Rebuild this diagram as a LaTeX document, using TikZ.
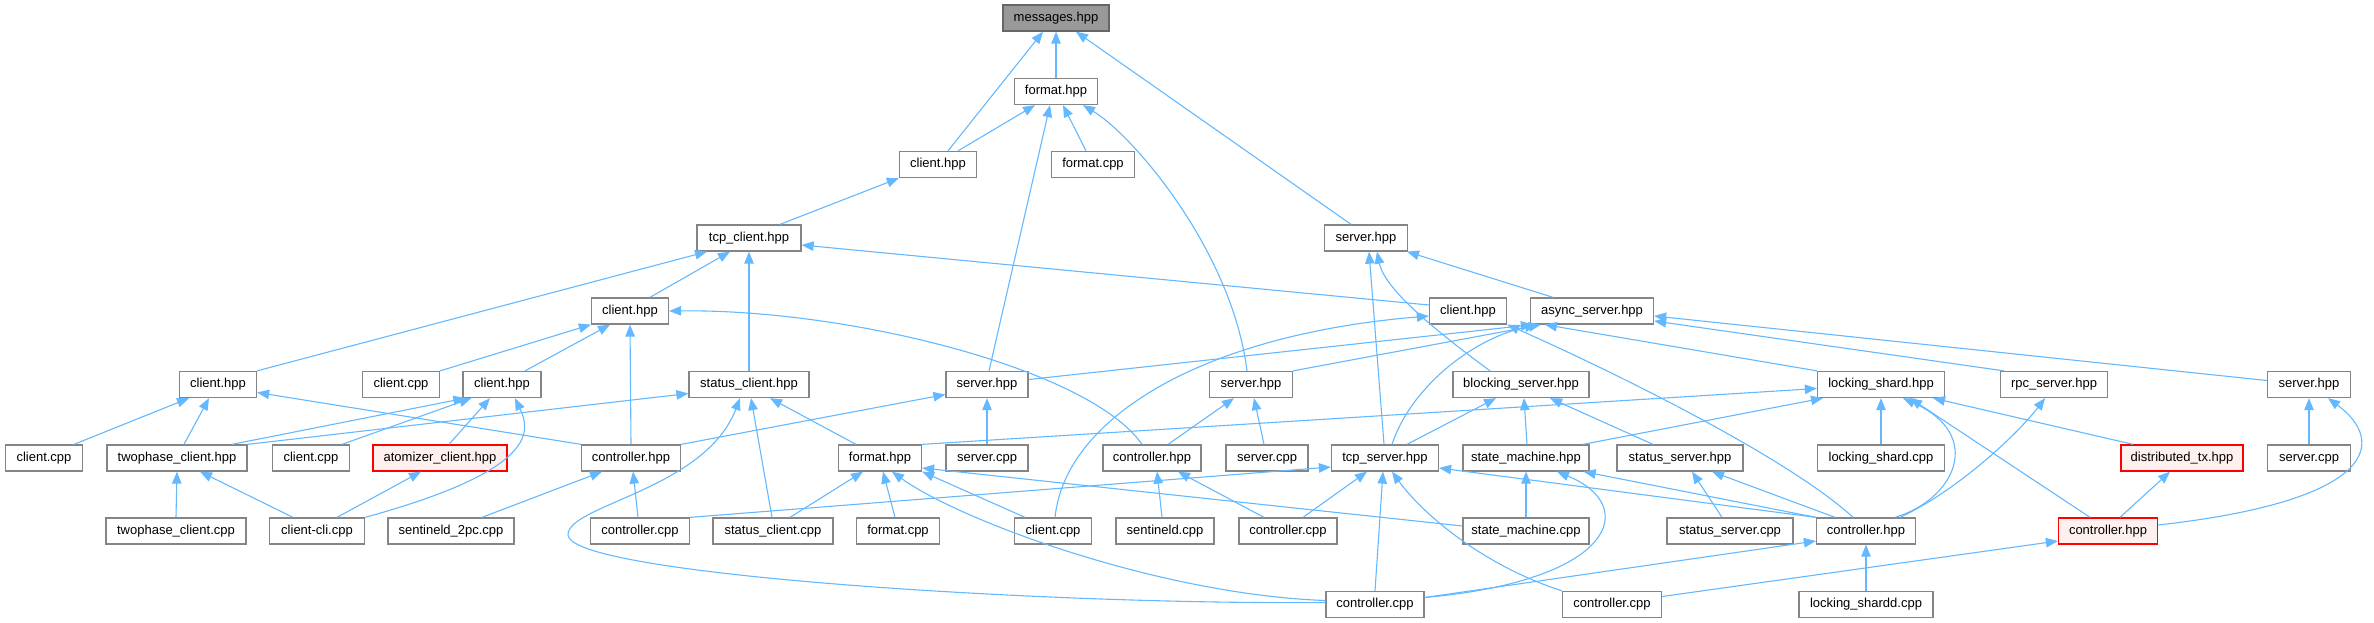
\documentclass[tikz,border=0pt]{standalone}
\usepackage{fontspec}
\setmainfont{Liberation Sans}
\usetikzlibrary{arrows.meta}
\definecolor{edgeblue}{HTML}{63B8FF}
\definecolor{boxgray}{HTML}{858585}
\definecolor{rootfill}{HTML}{999999}
\definecolor{rootdraw}{HTML}{666666}
\definecolor{redfill}{HTML}{FFF0F0}
\definecolor{reddraw}{HTML}{FF0000}
\tikzset{
  box/.style={draw=boxgray, fill=white, line width=1.3pt, minimum height=26pt, inner sep=0pt,
    font=\fontsize{13}{15}\selectfont, text height=9.5pt, text depth=2.8pt},
  rootbox/.style={box, draw=rootdraw, fill=rootfill},
  redbox/.style={box, draw=reddraw, fill=redfill},
  edge/.style={draw=edgeblue, line width=1.1pt, -{Triangle[length=12pt,width=9.5pt]}}
}
\begin{document}
\begin{tikzpicture}[x=1pt,y=-1pt]
\useasboundingbox (0,0) rectangle (2374,623);
% row 0-4
\node[rootbox, minimum width=106pt] (msg) at (1056,18) {messages.hpp};
\node[box, minimum width=83pt] (fmt) at (1056,91.5) {format.hpp};
\node[box, minimum width=77pt] (cli1) at (938,164.5) {client.hpp};
\node[box, minimum width=83pt] (fmtcpp1) at (1093,164.5) {format.cpp};
\node[box, minimum width=104pt] (tcpc) at (749,238) {tcp\_client.hpp};
\node[box, minimum width=83pt] (srv1) at (1366,238) {server.hpp};
\node[box, minimum width=77pt] (cli2) at (630,311) {client.hpp};
\node[box, minimum width=77pt] (cli3) at (1468,311) {client.hpp};
\node[box, minimum width=123pt] (asrv) at (1592,311) {async\_server.hpp};
% row 5
\node[box, minimum width=77pt] (cli4) at (218,384.5) {client.hpp};
\node[box, minimum width=77pt] (clicpp1) at (401,384.5) {client.cpp};
\node[box, minimum width=78pt] (cli5) at (502,384.5) {client.hpp};
\node[box, minimum width=120pt] (stc) at (749,384.5) {status\_client.hpp};
\node[box, minimum width=82pt] (srv2) at (987,384.5) {server.hpp};
\node[box, minimum width=83pt] (srv3) at (1251,384.5) {server.hpp};
\node[box, minimum width=136pt] (bsrv) at (1521,384.5) {blocking\_server.hpp};
\node[box, minimum width=127pt] (lsh) at (1881,384.5) {locking\_shard.hpp};
\node[box, minimum width=107pt] (rpc) at (2054,384.5) {rpc\_server.hpp};
\node[box, minimum width=83pt] (srv4) at (2309,384.5) {server.hpp};
% row 6
\node[box, minimum width=77pt] (clicpp2) at (44,458) {client.cpp};
\node[box, minimum width=140pt] (tpc) at (177,458) {twophase\_client.hpp};
\node[box, minimum width=77pt] (clicpp3) at (311,458) {client.cpp};
\node[redbox, minimum width=134pt] (atom) at (440,458) {atomizer\_client.hpp};
\node[box, minimum width=99pt] (ctl1) at (631,458) {controller.hpp};
\node[box, minimum width=83pt] (fmt2) at (880,458) {format.hpp};
\node[box, minimum width=82pt] (srvcpp1) at (987,458) {server.cpp};
\node[box, minimum width=98pt] (ctl2) at (1152,458) {controller.hpp};
\node[box, minimum width=82pt] (srvcpp2) at (1267,458) {server.cpp};
\node[box, minimum width=107pt] (tcps) at (1385,458) {tcp\_server.hpp};
\node[box, minimum width=126pt] (sm) at (1526,458) {state\_machine.hpp};
\node[box, minimum width=126pt] (ssrv) at (1680,458) {status\_server.hpp};
\node[box, minimum width=127pt] (lshcpp) at (1881,458) {locking\_shard.cpp};
\node[redbox, minimum width=122pt] (dtx) at (2182,458) {distributed\_tx.hpp};
\node[box, minimum width=83pt] (srvcpp3) at (2309,458) {server.cpp};
% row 7
\node[box, minimum width=140pt] (tpccpp) at (176,531) {twophase\_client.cpp};
\node[box, minimum width=95pt] (clicli) at (317,531) {client-cli.cpp};
\node[box, minimum width=126pt] (s2pc) at (451,531) {sentineld\_2pc.cpp};
\node[box, minimum width=99pt] (ctlcpp1) at (640,531) {controller.cpp};
\node[box, minimum width=120pt] (stccpp) at (773,531) {status\_client.cpp};
\node[box, minimum width=83pt] (fmtcpp2) at (898,531) {format.cpp};
\node[box, minimum width=77pt] (clicpp4) at (1053,531) {client.cpp};
\node[box, minimum width=98pt] (sentcpp) at (1165,531) {sentineld.cpp};
\node[box, minimum width=98pt] (ctlcpp2) at (1288,531) {controller.cpp};
\node[box, minimum width=126pt] (smcpp) at (1526,531) {state\_machine.cpp};
\node[box, minimum width=126pt] (sscpp) at (1730,531) {status\_server.cpp};
\node[box, minimum width=99pt] (ctl3) at (1866,531) {controller.hpp};
\node[redbox, minimum width=99pt] (ctl4) at (2108,531) {controller.hpp};
% row 8
\node[box, minimum width=98pt] (ctlcpp3) at (1375,604.5) {controller.cpp};
\node[box, minimum width=99pt] (ctlcpp4) at (1612,604.5) {controller.cpp};
\node[box, minimum width=134pt] (lshdcpp) at (1866,604.5) {locking\_shardd.cpp};
% edges
\draw[edge] ([xshift=10pt]cli1.north) -- ([xshift=-13pt]msg.south);
\draw[edge] (fmt.north) -- (msg.south);
\draw[edge] ([xshift=-15pt]srv1.north) -- ([xshift=20pt]msg.south);
\draw[edge] ([xshift=20pt]cli1.north) -- ([xshift=-21pt]fmt.south);
\draw[edge] ([xshift=2pt]srv2.north) -- ([xshift=-6pt]fmt.south);
\draw[edge] ([xshift=-7pt]fmtcpp1.north) -- ([xshift=7pt]fmt.south);
\draw[edge] ([xshift=-4pt]srv3.north) .. controls +(-15,-120) and +(50,30) .. ([xshift=27pt]fmt.south);
\draw[edge] ([xshift=31pt]tcpc.north) -- (cli1.south west);
\draw[edge] (cli4.north east) -- ([xshift=-42pt]tcpc.south);
\draw[edge] ([xshift=20pt]cli2.north) -- ([xshift=-19pt]tcpc.south);
\draw[edge] (stc.north) -- (tcpc.south);
\draw[edge] ([yshift=6pt]cli3.west) -- ([yshift=-7pt]tcpc.east);
\draw[edge] ([xshift=-39pt]asrv.north) -- ([xshift=41pt]srv1.south);
\draw[edge] ([xshift=-1pt]tcps.north) -- ([xshift=3pt]srv1.south);
\draw[edge] ([xshift=-31pt]bsrv.north) .. controls +(-50,-37) and +(8,39) .. ([xshift=11pt]srv1.south);
\draw[edge] (clicpp1.north east) -- (cli2.south west);
\draw[edge] ([xshift=23pt]cli5.north) -- ([xshift=-20pt]cli2.south);
\draw[edge] (ctl1.north) -- (cli2.south);
\draw[edge] ([xshift=-10pt]ctl2.north) .. controls +(-52,-75) and +(181,-2) .. (cli2.east);
\draw[edge] ([xshift=2pt]clicpp4.north) .. controls +(10,-98) and +(-229,19) .. ([yshift=-5pt]cli3.west);
\draw[edge] ([xshift=-13pt]ctl3.north) .. controls +(-63,-58) and +(113,50) .. (cli3.south east);
\draw[edge] ([yshift=5pt]srv2.east) -- ([xshift=3pt]asrv.south west);
\draw[edge] (srv3.north east) -- ([xshift=11pt]asrv.south west);
\draw[edge] ([xshift=7pt]tcps.north) .. controls +(18,-55) and +(-67,15) .. ([xshift=7pt]asrv.south west);
\draw[edge] (lsh.north west) -- ([xshift=15pt]asrv.south west);
\draw[edge] ([xshift=4pt]rpc.north west) -- ([yshift=-10pt]asrv.east);
\draw[edge] ([yshift=4pt]srv4.west) -- ([yshift=-5pt]asrv.east);
\draw[edge] ([xshift=30pt]clicpp2.north) -- ([xshift=-29pt]cli4.south);
\draw[edge] ([xshift=7pt]tpc.north) -- ([xshift=-9pt]cli4.south);
\draw[edge] (ctl1.north west) -- ([yshift=-8pt]cli4.east);
\draw[edge] ([xshift=55pt]tpc.north) -- ([xshift=3pt]cli5.south west);
\draw[edge] ([xshift=31pt]clicpp3.north) -- ([xshift=9pt]cli5.south west);
\draw[edge] ([xshift=9pt]atom.north) -- ([xshift=-12pt]cli5.south);
\draw[edge] (clicli.north east) .. controls +(175,-48) and +(15,32) .. ([xshift=13pt]cli5.south);
\draw[edge] (tpc.north east) -- ([yshift=-9pt]stc.west);
\draw[edge] ([xshift=-24pt]fmt2.north) -- ([xshift=21pt]stc.south);
\draw[edge] ([xshift=-1pt]stccpp.north) -- ([xshift=2pt]stc.south);
\draw[edge] ([yshift=2pt]ctlcpp3.west) .. controls (1050,605) and (570,575) .. (568,535) .. controls (567,505) and (705,490) .. ([xshift=-9pt]stc.south);
\draw[edge] (ctl1.north east) -- ([yshift=-10pt]srv2.west);
\draw[edge] (srvcpp1.north) -- (srv2.south);
\draw[edge] ([xshift=16pt]ctl2.north) -- ([xshift=-17pt]srv3.south);
\draw[edge] ([xshift=-3pt]srvcpp2.north) -- ([xshift=3pt]srv3.south);
\draw[edge] ([xshift=22pt]tcps.north) -- ([xshift=-25pt]bsrv.south);
\draw[edge] ([xshift=1pt]sm.north) -- ([xshift=3pt]bsrv.south);
\draw[edge] ([xshift=-27pt]ssrv.north) -- ([xshift=29pt]bsrv.south);
\draw[edge] (fmt2.north east) -- ([yshift=-4pt]lsh.west);
\draw[edge] ([xshift=57pt]sm.north) -- ([xshift=-58pt]lsh.south);
\draw[edge] (lshcpp.north) -- (lsh.south);
\draw[edge] ([xshift=29pt]ctl3.north) .. controls +(60,-18) and +(82,37) .. ([xshift=22pt]lsh.south);
\draw[edge] ([xshift=-18pt]ctl4.north) -- ([xshift=29pt]lsh.south);
\draw[edge] ([xshift=-49pt]dtx.north) -- ([xshift=52pt]lsh.south);
\draw[edge] ([xshift=34pt]ctl3.north) .. controls +(60,-28) and +(-25,33) .. ([xshift=-9pt]rpc.south);
\draw[edge] (srvcpp3.north) -- (srv4.south);
\draw[edge] ([yshift=6pt]ctl4.east) .. controls +(223,-25) and +(57,42) .. ([xshift=19pt]srv4.south);
\draw[edge] (tpccpp.north) -- (tpc.south);
\draw[edge] ([xshift=-24pt]clicli.north) -- ([xshift=23pt]tpc.south);
\draw[edge] ([xshift=20pt]clicli.north) -- ([xshift=-19pt]atom.south);
\draw[edge] ([xshift=31pt]s2pc.north) -- ([xshift=-29pt]ctl1.south);
\draw[edge] ([xshift=-2pt]ctlcpp1.north) -- ([xshift=2pt]ctl1.south);
\draw[edge] ([xshift=17pt]stccpp.north) -- ([xshift=-17pt]fmt2.south);
\draw[edge] ([xshift=-3pt]fmtcpp2.north) -- ([xshift=3pt]fmt2.south);
\draw[edge] ([xshift=-28pt]clicpp4.north) -- (fmt2.south east);
\draw[edge] ([yshift=4pt]ctlcpp3.west) .. controls +(-166,-6) and +(68,49) .. ([xshift=12pt]fmt2.south);
\draw[edge] ([yshift=5pt]smcpp.west) -- ([yshift=-10pt]fmt2.east);
\draw[edge] ([xshift=-3pt]sentcpp.north) -- ([xshift=5pt]ctl2.south);
\draw[edge] ([xshift=-24pt]ctlcpp2.north) -- ([xshift=26pt]ctl2.south);
\draw[edge] (ctlcpp1.north east) -- ([yshift=-9pt]tcps.west);
\draw[edge] ([xshift=15pt]ctlcpp2.north) -- ([xshift=-18pt]tcps.south);
\draw[edge] (ctlcpp3.north) -- ([xshift=-2pt]tcps.south);
\draw[edge] (ctlcpp4.north west) .. controls +(-83,-27) and +(28,39) .. ([xshift=7pt]tcps.south);
\draw[edge] (ctl3.north west) -- ([yshift=-10pt]tcps.east);
\draw[edge] (smcpp.north) -- (sm.south);
\draw[edge] ([yshift=7pt]ctlcpp3.east) .. controls +(191,-17) and +(83,34) .. ([xshift=31pt]sm.south);
\draw[edge] (ctl3.north west) -- ([xshift=-6pt]sm.south east);
\draw[edge] ([xshift=-8pt]sscpp.north) -- ([xshift=12pt]ssrv.south);
\draw[edge] ([xshift=-31pt]ctl3.north) -- ([xshift=32pt]ssrv.south);
\draw[edge] ([xshift=12pt]ctl4.north) -- ([xshift=-12pt]dtx.south);
\draw[edge] (lshdcpp.north) -- (ctl3.south);
\draw[edge] ([yshift=7pt]ctlcpp3.east) -- ([yshift=-10pt]ctl3.west);
\draw[edge] ([yshift=8pt]ctlcpp4.east) -- ([yshift=-10pt]ctl4.west);
\end{tikzpicture}
\end{document}
